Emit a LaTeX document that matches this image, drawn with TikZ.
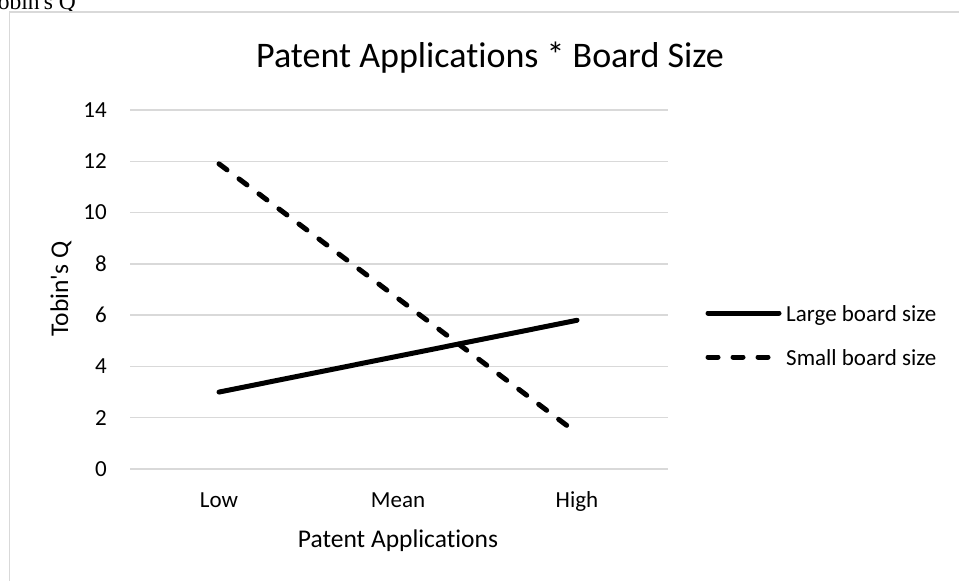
\documentclass[tikz,border=0pt]{standalone}
\usepackage{fontspec}
\setmainfont[Ligatures={NoCommon}]{Carlito}
\newfontfamily\capserif{Liberation Serif}
\definecolor{gridgray}{HTML}{D9D9D9}
\begin{document}
\begin{tikzpicture}[x=1pt,y=-1pt,
  gridline/.style={draw=gridgray,line width=1.3pt},
  series/.style={draw=black,line width=5pt,line cap=round},
  dashseries/.style={series,dash pattern=on 10pt off 15pt},
  ticklbl/.style={font=\fontsize{23}{23}\selectfont,inner sep=0pt},
  axislbl/.style={font=\fontsize{25.5}{25.5}\selectfont,inner sep=0pt},
  titlelbl/.style={font=\fontsize{36}{36}\selectfont,inner sep=0pt},
  legendlbl/.style={font=\fontsize{23}{23}\selectfont,inner sep=0pt,anchor=base west}]
\useasboundingbox (0,0) rectangle (959,581);

% caption text above the chart frame, cut by the page edge
\node[anchor=base west,inner sep=0pt,font=\capserif\fontsize{23.5}{23.5}\selectfont] (cap) at (-15,9.5) {Tobin\textquotesingle s Q};

% chart frame
\draw[gridgray,line width=1.5pt] (9.5,12) rectangle (980,600);

% title
\node[titlelbl,anchor=base] (title) at (490,67) {Patent Applications * Board Size};

% horizontal gridlines and value labels
\foreach \v in {0,2,...,14} {
  \draw[gridline] (130,{469-25.643*\v}) -- (668,{469-25.643*\v});
  \node[ticklbl,anchor=east] (t\v) at (107,{469-25.643*\v}) {\v};
}

% category labels
\node[ticklbl,anchor=base] (low) at (219,507) {Low};
\node[ticklbl,anchor=base] (mean) at (398,507) {Mean};
\node[ticklbl,anchor=base] (high) at (577,507) {High};

% axis titles
\node[axislbl,anchor=base] (xtitle) at (398,547) {Patent Applications};
\node[axislbl,rotate=90] (ytitle) at (61,289) {Tobin\textquotesingle s Q};

% data points
\coordinate (L1) at (219,{469-25.643*3.0});
\coordinate (L2) at (398,{469-25.643*4.4});
\coordinate (L3) at (577,{469-25.643*5.8});
\coordinate (S1) at (219,{469-25.643*11.9});
\coordinate (S2) at (398,{469-25.643*6.65});
\coordinate (S3) at (577,{469-25.643*1.4});

% series
\draw[series] (L1) -- (L2) -- (L3);
\draw[dashseries] (S1) -- (S2) -- (S3);

% legend
\coordinate (lg1a) at (708,313);
\coordinate (lg1b) at (779,313);
\coordinate (lg2a) at (708,357);
\coordinate (lg2b) at (779,357);
\draw[series] (lg1a) -- (lg1b);
\draw[dashseries] (lg2a) -- (lg2b);
\node[legendlbl] (lgt1) at (786,321) {Large board size};
\node[legendlbl] (lgt2) at (786,365) {Small board size};
\end{tikzpicture}
\end{document}
